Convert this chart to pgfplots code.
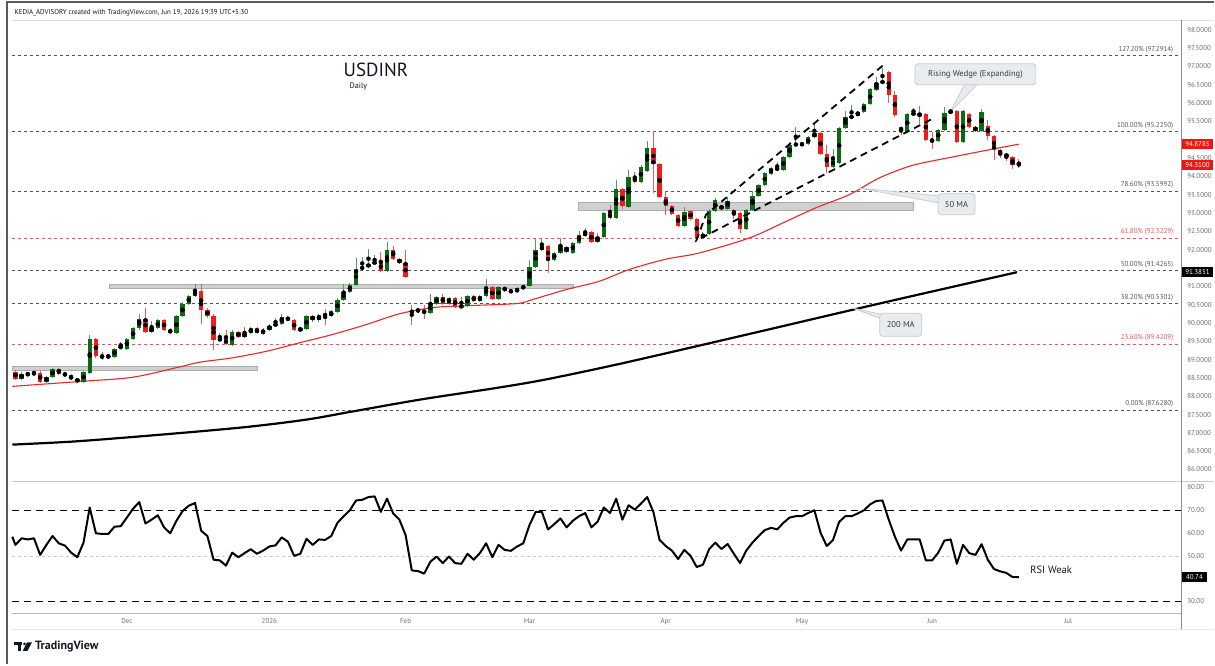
\documentclass[border=0pt]{standalone}
\usepackage{pgfplots}
\pgfplotsset{compat=1.18}
\usepackage{pgfplotstable}
\usepackage{fontspec}
\setmainfont{PT Sans}

\definecolor{candlegreen}{HTML}{0B6B12}
\definecolor{candlered}{HTML}{EE1C1C}
\definecolor{wickgreen}{HTML}{5A9660}
\definecolor{wickred}{HTML}{EE5A5A}
\definecolor{ma50}{HTML}{E8282A}
\definecolor{fibgray}{HTML}{555555}
\definecolor{fibred}{HTML}{E05A5A}
\definecolor{scalegray}{HTML}{6E6E6E}
\definecolor{zonefill}{HTML}{D0D0D0}
\definecolor{zoneedge}{HTML}{ADADAD}
\definecolor{calloutfill}{HTML}{E9ECEF}
\definecolor{calloutedge}{HTML}{C5C9CF}
\definecolor{boxred}{HTML}{F01515}
\definecolor{ink}{HTML}{131722}

\newcommand\fs[1]{\fontsize{#1}{#1}\selectfont}

% daily candles, i = trading days from 1 Dec 2025
\pgfplotstableread{
i o h l c
-18 88.67 88.72 88.44 88.48
-17 88.48 88.65 88.45 88.61
-16 88.61 88.66 88.55 88.59
-15 88.60 88.70 88.57 88.64
-14 88.64 88.68 88.36 88.39
-13 88.39 88.56 88.36 88.53
-12 88.52 88.78 88.50 88.75
-11 88.75 88.78 88.58 88.61
-10 88.62 88.66 88.54 88.57
-9 88.57 88.60 88.43 88.46
-8 88.47 88.50 88.37 88.40
-7 88.40 88.68 88.37 88.66
-6 88.64 89.68 88.60 89.57
-5 89.57 89.60 89.05 89.09
-4 89.09 89.20 88.98 89.07
-3 89.10 89.15 89.02 89.08
-2 89.08 89.33 89.05 89.30
-1 89.33 89.48 89.30 89.35
0 89.30 89.60 89.27 89.57
1 89.56 89.88 89.53 89.85
2 89.85 90.24 89.82 90.12
3 90.12 90.42 89.73 89.76
4 89.76 90.05 89.72 89.87
5 89.87 90.10 89.84 90.07
6 90.07 90.10 89.79 89.82
7 89.82 89.85 89.70 89.73
8 89.73 90.21 89.70 90.18
9 90.18 90.56 90.15 90.53
10 90.53 90.76 90.50 90.73
11 90.73 91.06 90.70 90.88
12 90.88 91.06 89.98 90.35
13 90.35 90.40 90.15 90.20
14 90.20 90.24 89.25 89.53
15 89.53 89.73 89.50 89.57
16 89.57 89.82 89.40 89.43
17 89.40 89.80 89.38 89.76
18 89.76 89.79 89.58 89.61
19 89.61 89.88 89.58 89.73
20 89.73 89.88 89.70 89.85
21 89.85 89.88 89.70 89.73
22 89.71 89.85 89.68 89.82
23 89.82 89.96 89.79 89.93
24 89.93 90.15 89.90 89.98
25 89.98 90.25 89.95 90.15
26 90.15 90.18 90.05 90.08
27 90.08 90.11 89.77 89.80
28 89.80 89.88 89.77 89.85
29 89.84 90.23 89.81 90.20
30 90.20 90.23 90.04 90.07
31 90.07 90.25 90.04 90.22
32 90.23 90.38 89.95 90.21
33 90.18 90.35 90.15 90.32
34 90.30 90.67 90.27 90.64
35 90.64 91.05 90.61 90.84
36 90.84 91.08 90.81 91.05
37 91.05 91.78 91.02 91.48
38 91.48 91.80 91.45 91.53
39 91.52 92.02 91.49 91.62
40 91.62 91.85 91.59 91.67
41 91.66 91.95 91.39 91.42
42 91.42 92.20 91.39 92.00
43 92.00 92.10 91.72 91.75
44 91.75 91.78 91.60 91.63
45 91.64 92.00 91.22 91.25
46 90.26 90.50 89.95 90.36
47 90.36 90.40 90.28 90.33
48 90.36 90.50 90.10 90.27
49 90.27 90.80 90.24 90.55
50 90.53 90.73 90.50 90.70
51 90.70 90.78 90.50 90.53
52 90.53 90.71 90.50 90.68
53 90.68 90.71 90.41 90.44
54 90.46 90.70 90.40 90.44
55 90.47 90.76 90.44 90.73
56 90.73 90.76 90.57 90.60
57 90.60 90.76 90.57 90.73
58 90.73 91.19 90.70 90.98
59 90.98 91.01 90.63 90.66
60 90.66 91.01 90.63 90.98
61 90.98 91.01 90.84 90.87
62 90.89 90.92 90.81 90.84
63 90.84 90.98 90.81 90.95
64 90.93 91.05 90.90 91.02
65 91.02 91.73 90.99 91.52
66 91.52 92.31 91.49 92.00
67 92.00 92.31 91.97 92.09
68 92.09 92.12 91.37 91.73
69 91.73 91.94 91.70 91.91
70 91.91 92.33 91.88 92.11
71 91.95 92.10 91.92 92.07
72 91.92 92.22 91.89 92.19
73 92.19 92.50 92.16 92.40
74 92.38 92.60 92.35 92.48
75 92.48 92.51 92.17 92.20
76 92.20 92.45 92.17 92.36
77 92.35 93.03 92.32 93.00
78 93.00 93.22 92.84 92.87
79 92.87 93.90 92.84 93.65
80 93.65 93.68 93.10 93.18
81 93.17 94.17 93.14 93.98
82 93.98 94.12 93.82 93.85
83 93.85 94.30 93.82 94.27
84 94.16 94.98 94.13 94.77
85 94.77 95.23 93.55 94.35
86 94.35 94.38 93.40 93.44
87 93.44 93.60 92.95 93.20
88 93.20 93.23 92.95 92.98
89 92.95 92.98 92.62 92.65
90 92.65 93.16 92.62 93.03
91 93.05 93.08 92.81 92.84
92 92.84 92.87 92.28 92.32
93 92.32 92.47 92.29 92.44
94 92.44 93.10 92.41 93.07
95 93.07 93.40 93.04 93.36
96 93.20 93.23 93.08 93.11
97 93.11 93.45 93.08 93.34
98 93.09 93.12 92.85 92.95
99 93.00 93.03 92.45 92.56
100 92.56 93.12 92.53 93.09
101 93.09 93.60 93.06 93.47
102 93.47 93.80 93.44 93.77
103 93.77 94.12 93.74 94.09
104 94.07 94.26 94.04 94.23
105 94.23 94.40 94.15 94.18
106 94.18 94.56 94.15 94.53
107 94.53 94.95 94.50 94.86
108 94.85 95.35 94.82 94.89
109 94.88 94.91 94.85 94.88
110 94.88 95.10 94.85 95.07
111 95.07 95.45 95.04 95.18
112 95.18 95.21 94.58 94.61
113 94.61 94.85 94.10 94.26
114 94.26 94.76 94.23 94.48
115 94.37 95.35 94.34 95.32
116 95.32 95.80 95.29 95.61
117 95.59 95.94 95.56 95.66
118 95.66 95.80 95.63 95.77
119 95.77 96.00 95.74 95.97
120 95.97 96.41 95.94 96.38
121 96.35 96.72 96.32 96.55
122 96.55 96.96 96.52 96.61
123 96.84 96.87 96.00 96.23
124 96.23 96.32 95.62 95.68
125 95.35 95.38 95.12 95.23
126 95.23 95.73 95.20 95.70
127 95.70 95.88 95.67 95.72
128 95.72 95.93 95.43 95.66
129 95.70 95.73 94.97 95.00
130 95.00 95.22 94.75 94.95
131 94.98 95.30 94.95 95.27
132 95.27 95.89 95.24 95.73
133 95.73 95.85 95.70 95.79
134 95.79 95.82 94.90 94.93
135 94.93 95.82 94.90 95.79
136 95.71 95.74 95.32 95.35
137 95.35 95.38 95.22 95.25
138 95.25 95.85 95.22 95.77
139 95.38 95.55 94.99 95.11
140 95.11 95.14 94.45 94.71
141 94.71 94.74 94.50 94.62
142 94.62 94.65 94.42 94.53
143 94.53 94.56 94.20 94.32
144 94.34 94.48 94.22 94.31
}\ohlc

\pgfplotstableread{
i v
-18.5 58.4
-18 54.8
-17 57.7
-16 57.2
-15 57.7
-14 50.4
-13 54.8
-12 58.7
-11 55.5
-10 54.5
-9 51.4
-8 49.4
-7 55.8
-6 71.2
-5 59.9
-4 59.6
-3 59.6
-2 62.8
-1 63.0
0 66.8
1 70.7
2 73.6
3 64.2
4 65.9
5 67.8
6 62.5
7 59.9
8 65.4
9 69.7
10 72.0
11 73.2
12 61.0
13 58.7
14 48.3
15 48.0
16 45.7
17 51.4
18 49.4
19 51.2
20 52.9
21 50.9
22 52.3
23 54.1
24 54.6
25 58.1
26 56.2
27 50.0
28 50.9
29 57.5
30 54.8
31 57.2
32 57.0
33 58.7
34 64.5
35 67.4
36 70.0
37 74.3
38 74.6
39 75.8
40 76.1
41 69.3
42 75.1
43 68.6
44 65.9
45 59.1
46 43.6
47 43.3
48 42.2
49 47.4
50 49.7
51 46.8
52 49.7
53 46.8
54 46.5
55 50.9
56 48.3
57 51.2
58 55.5
59 49.4
60 54.8
61 52.6
62 52.2
63 54.1
64 55.5
65 63.5
66 69.3
67 69.3
68 61.6
69 63.9
70 66.4
71 62.5
72 65.4
73 67.4
74 68.8
75 62.5
76 65.0
77 71.2
78 68.8
79 75.1
80 65.9
81 72.2
82 70.3
83 72.9
84 75.8
85 69.3
86 57.0
87 54.3
88 52.3
89 48.6
90 52.6
91 50.0
92 45.1
93 46.1
94 52.9
95 55.8
96 53.0
97 55.2
98 50.9
99 46.8
100 52.3
101 55.8
102 58.7
103 61.3
104 62.3
105 61.6
106 64.5
107 66.8
108 67.4
109 67.4
110 68.8
111 70.0
112 60.1
113 54.3
114 56.9
115 64.9
116 67.4
117 67.4
118 68.6
119 70.0
120 72.6
121 74.1
122 74.3
123 65.9
124 58.4
125 52.3
126 57.2
127 57.2
128 57.2
129 48.0
130 48.0
131 51.4
132 56.7
133 57.2
134 46.5
135 54.8
136 51.2
137 50.4
138 55.1
139 48.3
140 44.2
141 43.2
142 42.5
143 40.7
144 40.7
}\rsi

\pgfplotsset{
  tvaxis/.style={scale only axis, anchor=south west, width=1171pt,
    xmin=-18.55, xmax=170.32, axis line style={draw=none},
    major tick length=0pt, clip=false,
    ytick pos=right, yticklabel pos=right},
  fib/.style={forget plot, fibgray, line width=0.7pt, dash pattern=on 3pt off 3pt},
  fibr/.style={forget plot, fibred, line width=0.7pt, dash pattern=on 3pt off 3pt},
}
\tikzset{
  fiblabel/.style={anchor=south east, font=\fs{7}, text=fibgray, inner sep=1.5pt, yshift=1pt},
  callout/.style={fill=calloutfill, draw=calloutedge, line width=0.7pt, rounded corners=3pt,
    font=\fs{8.5}, text=ink!85, inner sep=0pt},
  pricebox/.style={anchor=west, font=\fs{7}, text=white, inner sep=0pt,
    minimum width=31pt, minimum height=10pt},
}

\begin{document}
\begin{tikzpicture}
\fill[white] (0pt,0pt) rectangle (1215pt,665pt);

% ---------------- price panel ----------------
\begin{axis}[tvaxis, at={(12pt,184pt)}, height=461pt,
  ymin=85.70, ymax=98.27, xtick=\empty,
  ytick={86,86.5,87,87.5,88,88.5,89,89.5,90,90.5,91,92,92.5,93,93.5,94,94.5,95.5,96,96.5,97,97.5,98},
  yticklabel style={font=\fs{7}, text=scalegray, xshift=2pt,
    /pgf/number format/.cd, fixed, fixed zerofill, precision=4, assume math mode=true}]

% fibonacci levels
\addplot[fib] coordinates {(-18.55,97.2914) (170.32,97.2914)};
\addplot[fib] coordinates {(-18.55,95.2250) (170.32,95.2250)};
\addplot[fib] coordinates {(-18.55,93.5992) (170.32,93.5992)};
\addplot[fibr] coordinates {(-18.55,92.3229) (170.32,92.3229)};
\addplot[fib] coordinates {(-18.55,91.4265) (170.32,91.4265)};
\addplot[fib] coordinates {(-18.55,90.5301) (170.32,90.5301)};
\addplot[fibr] coordinates {(-18.55,89.4209) (170.32,89.4209)};
\addplot[fib] coordinates {(-18.55,87.6280) (170.32,87.6280)};
\node[fiblabel] at (axis cs:169.2,97.2914) {127.20\% (97.2914)};
\node[fiblabel] at (axis cs:169.2,95.2250) {100.00\% (95.2250)};
\node[fiblabel] at (axis cs:169.2,93.5992) {78.60\% (93.5992)};
\node[fiblabel, text=fibred] at (axis cs:169.2,92.3229) {61.80\% (92.3229)};
\node[fiblabel] at (axis cs:169.2,91.4265) {50.00\% (91.4265)};
\node[fiblabel] at (axis cs:169.2,90.5301) {38.20\% (90.5301)};
\node[fiblabel, text=fibred] at (axis cs:169.2,89.4209) {23.60\% (89.4209)};
\node[fiblabel] at (axis cs:169.2,87.6280) {0.00\% (87.6280)};

% support zones
\addplot[forget plot, fill=zonefill, draw=zoneedge, line width=0.5pt]
  coordinates {(-18.5,88.71) (21.1,88.71) (21.1,88.82) (-18.5,88.82)} --cycle;
\addplot[forget plot, fill=zonefill, draw=zoneedge, line width=0.5pt]
  coordinates {(-2.9,90.94) (72.1,90.94) (72.1,91.07) (-2.9,91.07)} --cycle;
\addplot[forget plot, fill=zonefill, draw=zoneedge, line width=0.5pt]
  coordinates {(72.9,93.07) (126.9,93.07) (126.9,93.30) (72.9,93.30)} --cycle;

% moving averages
\addplot[forget plot, black, line width=2.2pt, smooth] coordinates {
(-18.5,86.68) (-8.1,86.77) (6.1,86.96) (19,87.155) (28.9,87.36) (36.3,87.58)
(47.4,87.91) (59.8,88.23) (67.7,88.46) (80,88.90) (100,89.68) (121.5,90.53)
(143.7,91.385)};
\addplot[forget plot, ma50, line width=1.1pt, smooth] coordinates {
(-18.5,88.27) (-7,88.41) (1,88.52) (8.5,88.80) (11.8,88.93) (17.1,89.05)
(22.6,89.23) (27.9,89.46) (33.3,89.69) (38.7,89.96) (44,90.25) (49.4,90.42)
(54.8,90.47) (62.9,90.53) (65.5,90.64) (70.9,90.91) (76.3,91.14) (81.1,91.46)
(87,91.74) (92.4,91.91) (100.5,92.32) (105.9,92.73) (111.2,93.14) (116.6,93.50)
(121.5,93.96) (126.8,94.30) (133.3,94.53) (138.7,94.71) (144,94.88)};

% wicks
\addplot[only marks, mark=none, forget plot,
  restrict expr to domain={\thisrow{c}-\thisrow{o}}{0:50},
  error bars/y dir=both, error bars/y explicit, error bars/error mark=none,
  error bars/error bar style={draw=wickgreen, line width=0.9pt}]
  table[x=i, y expr={(\thisrow{h}+\thisrow{l})/2},
        y error expr={(\thisrow{h}-\thisrow{l})/2}] {\ohlc};
\addplot[only marks, mark=none, forget plot,
  restrict expr to domain={\thisrow{c}-\thisrow{o}}{-50:-0.0001},
  error bars/y dir=both, error bars/y explicit, error bars/error mark=none,
  error bars/error bar style={draw=wickred, line width=0.9pt}]
  table[x=i, y expr={(\thisrow{h}+\thisrow{l})/2},
        y error expr={(\thisrow{h}-\thisrow{l})/2}] {\ohlc};
% bodies
\addplot[only marks, mark=none, forget plot,
  restrict expr to domain={\thisrow{c}-\thisrow{o}}{0:50},
  error bars/y dir=both, error bars/y explicit, error bars/error mark=none,
  error bars/error bar style={draw=candlegreen, line width=4.4pt}]
  table[x=i, y expr={(\thisrow{o}+\thisrow{c})/2},
        y error expr={max(abs(\thisrow{c}-\thisrow{o})/2,0.03)}] {\ohlc};
\addplot[only marks, mark=none, forget plot,
  restrict expr to domain={\thisrow{c}-\thisrow{o}}{-50:-0.0001},
  error bars/y dir=both, error bars/y explicit, error bars/error mark=none,
  error bars/error bar style={draw=candlered, line width=4.4pt}]
  table[x=i, y expr={(\thisrow{o}+\thisrow{c})/2},
        y error expr={max(abs(\thisrow{c}-\thisrow{o})/2,0.03)}] {\ohlc};

% rising wedge
\addplot[forget plot, black, line width=1.8pt, dash pattern=on 7pt off 5pt]
  coordinates {(122,97.02) (93.5,92.955) (91.94,92.25) (129.8,95.55)};

% callouts
\addplot[forget plot, fill=calloutfill, draw=calloutedge, line width=0.7pt]
  coordinates {(133.0,95.77) (135.5,96.60) (137.8,96.60)} --cycle;
\node[callout, minimum width=121pt, minimum height=21pt] at (axis cs:137.0,96.787) {Rising Wedge (Expanding)};
\addplot[forget plot, fill=calloutfill, draw=calloutedge, line width=0.7pt]
  coordinates {(118.2,93.68) (131.6,93.46) (131.6,93.26)} --cycle;
\node[callout, minimum width=37pt, minimum height=21pt] at (axis cs:133.95,93.24) {50 MA};
\addplot[forget plot, fill=calloutfill, draw=calloutedge, line width=0.7pt]
  coordinates {(117.1,90.41) (122.8,90.20) (122.0,90.10)} --cycle;
\node[callout, minimum width=42pt, minimum height=23pt] at (axis cs:124.95,89.95) {200 MA};

% title
\node[font=\fs{19}, text=ink] at (axis cs:40.2,96.91) {USDINR};
\node[anchor=west, font=\fs{8}, text=ink] at (axis cs:35.4,96.45) {Daily};

% last-value boxes
\node[pricebox, fill=boxred] at (axis cs:170.32,94.8785) {94.8785};
\node[pricebox, fill=boxred] at (axis cs:170.32,94.3100) {94.3100};
\node[pricebox, fill=black] at (axis cs:170.32,91.3851) {91.3851};
\end{axis}

% ---------------- RSI panel ----------------
\begin{axis}[tvaxis, at={(12pt,51pt)}, height=132pt,
  ymin=24.74, ymax=82.63,
  xtick={0,23,45,65,87,109,130,152},
  xticklabels={Dec,2026,Feb,Mar,Apr,May,Jun,Jul},
  xticklabel style={font=\fs{7}, text=scalegray, yshift=-2pt},
  ytick={30,40,50,60,70,80},
  yticklabel style={font=\fs{7}, text=scalegray, xshift=2pt,
    /pgf/number format/.cd, fixed, fixed zerofill, precision=2, assume math mode=true}]
\addplot[forget plot, black, line width=0.9pt, dash pattern=on 7pt off 5pt]
  coordinates {(-18.55,70) (170.32,70)};
\addplot[forget plot, black, line width=0.9pt, dash pattern=on 7pt off 5pt]
  coordinates {(-18.55,30) (170.32,30)};
\addplot[forget plot, black!22, line width=0.6pt, dash pattern=on 3pt off 3pt]
  coordinates {(-18.55,50) (170.32,50)};
\addplot[forget plot, black, line width=2pt, line join=round] table[x=i, y=v] {\rsi};
\node[anchor=west, font=\fs{10.5}, text=ink] at (axis cs:145.3,44.0) {RSI Weak};
\node[pricebox, fill=black, minimum width=25pt, minimum height=9.5pt] at (axis cs:170.32,40.74) {40.74};
\end{axis}

% ---------------- frame and separators ----------------
\draw[black!12, line width=0.6pt] (12pt,645pt) -- (1215pt,645pt);
\draw[black!20, line width=0.8pt] (12pt,183.5pt) -- (1215pt,183.5pt);
\draw[black!28, line width=0.8pt] (12pt,51pt) -- (1183pt,51pt);
\draw[black!10, line width=0.6pt] (12pt,35pt) -- (1215pt,35pt);
\draw[black!45, line width=0.8pt] (1183pt,645pt) -- (1183pt,35pt);
\draw[black!65, line width=2pt] (7pt,0pt) -- (7pt,662.5pt) -- (1215pt,662.5pt);

\node[anchor=west, font=\fs{7}, text=ink] at (11pt,652pt)
  {KEDIA\_ADVISORY created with TradingView.com, Jun 19, 2026 19:39 UTC+5:30};

% TradingView logo
\fill[ink] (14pt,22pt) rectangle (22pt,19pt);
\fill[ink] (18pt,22pt) rectangle (21.5pt,13.5pt);
\fill[ink] (24.5pt,20.5pt) circle (1.5pt);
\fill[ink] (27pt,22pt) -- (32pt,22pt) -- (27.5pt,13.5pt) -- (22.8pt,13.5pt) -- cycle;
\node[anchor=west, font=\fs{12}\bfseries, text=ink, inner sep=0pt] at (35pt,18pt) {TradingView};
\end{tikzpicture}
\end{document}
